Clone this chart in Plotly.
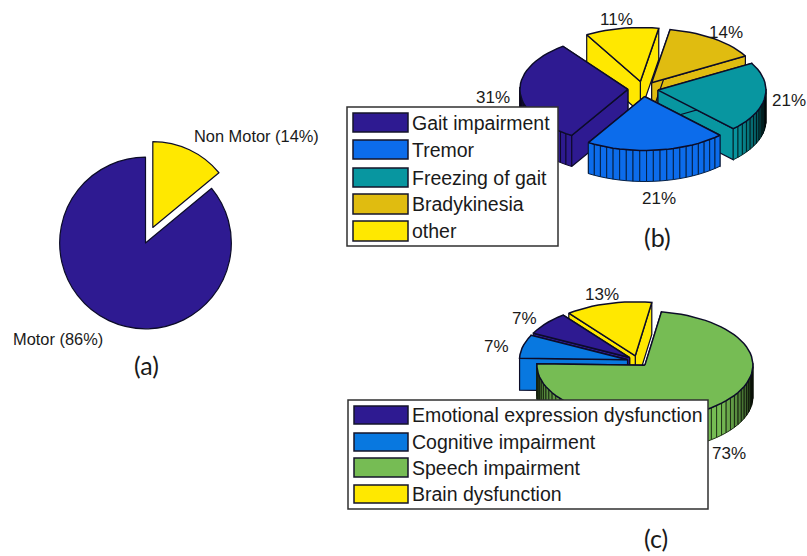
import math
import plotly.graph_objects as go

# ---------- data ----------
labels_a = ["Non Motor (14%)", "Motor (86%)"]
values_a = [14, 86]

labels_b = ["Gait impairment", "Tremor", "Freezing of gait", "Bradykinesia", "other"]
values_b = [31, 21, 21, 14, 11]

labels_c = ["Emotional expression dysfunction", "Cognitive impairment", "Speech impairment", "Brain dysfunction"]
values_c = [7, 7, 73, 13]

# ---------- styling ----------
PURPLE = (46, 26, 145)
BLUE = (12, 108, 235)
TEAL = (8, 150, 160)
GOLD = (224, 188, 16)
YELLOW = (255, 232, 0)
GREEN = (118, 188, 84)
BLUE_C = (8, 120, 224)
colors_b = [PURPLE, BLUE, TEAL, GOLD, YELLOW]
colors_c = [PURPLE, BLUE_C, GREEN, YELLOW]
EDGE = "#0c0c28"
W, H = 807, 556
SANS = "Liberation Sans"
CAP = "Lato"


def rgb(c, s=1.0):
    return "rgb(%d,%d,%d)" % tuple(max(0, min(255, round(v * s))) for v in c)


def shade(t):
    t = t % 360
    if t < 180:
        return 0.3
    if t < 235:
        return 0.55 + 0.45 * (t - 180) / 55
    if t < 315:
        return 1.0
    return 1.0 - 0.85 * (t - 315) / 45


fig = go.Figure()


def add_poly(xs, ys, fill, line, width=1.0):
    fig.add_trace(go.Scatter(
        x=xs + xs[:1], y=ys + ys[:1], mode="lines", fill="toself",
        fillcolor=fill, line=dict(color=line, width=width),
        hoverinfo="skip", showlegend=False))


def pie3d(values, colors, cx, cy, a, b, h, start, explode):
    """Draw an exploded, extruded pie; slices go counter-clockwise from `start`."""
    slices, t0 = [], start
    for v, c in zip(values, colors):
        span = 3.6 * v
        slices.append((t0, t0 + span, v, c))
        t0 += span
    # back-to-front painting
    slices.sort(key=lambda s: -math.sin(math.radians((s[0] + s[1]) / 2)))
    for t1, t2, v, c in slices:
        mid = math.radians((t1 + t2) / 2)
        ox = cx + a * explode * math.cos(mid)
        oy = cy - b * explode * math.sin(mid)
        n = max(2, math.ceil(v))
        ts = [t1 + (t2 - t1) * i / n for i in range(n + 1)]
        px = [ox + a * math.cos(math.radians(t)) for t in ts]
        py = [oy - b * math.sin(math.radians(t)) for t in ts]
        # radial walls
        for i in (0, -1):
            add_poly([ox, px[i], px[i], ox], [oy, py[i], py[i] + h, oy + h], rgb(c), EDGE, 1.2)
        # rim facets on the front side
        for i in range(n):
            tm = (ts[i] + ts[i + 1]) / 2
            if math.sin(math.radians(tm)) < 0.02:
                s = shade(tm)
                add_poly([px[i], px[i + 1], px[i + 1], px[i]],
                         [py[i], py[i + 1], py[i + 1] + h, py[i] + h],
                         rgb(c, s), rgb(c, s * 0.3), 1.0)
        # top face
        add_poly([ox] + px, [oy] + py, rgb(c), EDGE, 1.5)


# (a) flat pie
fig.add_trace(go.Pie(
    labels=labels_a, values=values_a, sort=False, direction="clockwise", rotation=0,
    pull=[0.2, 0], textinfo="none", hoverinfo="label", showlegend=False,
    marker=dict(colors=[rgb(YELLOW), rgb(PURPLE)], line=dict(color=EDGE, width=1.2)),
    domain=dict(x=[42.5 / W, 248.5 / W], y=[1 - 346 / H, 1 - 140 / H])))

# (b), (c) extruded pies
pie3d(values_b, colors_b, 643, 89, 108, 54, 31, 127, 0.14)
pie3d(values_c, colors_c, 638, 361, 108, 54, 32, 128, 0.10)

# legends
shapes, annos = [], []


def text(x, y, s, size, font=SANS, xanchor="center", color="#1a1a1a"):
    annos.append(dict(x=x, y=y, text=s, showarrow=False, xanchor=xanchor, yanchor="middle",
                      font=dict(family=font, size=size, color=color), xref="x", yref="y"))


def legend(box, rows, labels, colors, size):
    shapes.append(dict(type="rect", x0=box[0], x1=box[1], y0=box[2], y1=box[3], xref="x", yref="y",
                       fillcolor="white", line=dict(color="#303030", width=1.5), layer="above"))
    for (y0, y1), lab, c in zip(rows, labels, colors):
        shapes.append(dict(type="rect", x0=box[0] + 6, x1=408, y0=y0, y1=y1, xref="x", yref="y",
                           fillcolor=rgb(c), line=dict(color="#15152a", width=1.5), layer="above"))
        text(410, (y0 + y1) / 2, lab, size, xanchor="left")


legend((347, 558, 107, 246), [(113, 132), (140, 159), (168, 187), (194, 214), (221, 241)],
       labels_b, colors_b, 19.5)
legend((348, 708, 400, 509), [(406, 424), (433, 451), (458, 477), (485, 503)],
       labels_c, colors_c, 19.5)

# percentage and panel labels
b_pos = [(493, 97), (659, 198), (789, 100), (726, 32), (616, 19)]
c_pos = [(524, 318), (496, 346), (729, 453), (602, 294)]
for v, (x, y) in zip(values_b, b_pos):
    text(x, y, f"{v}%", 17)
for v, (x, y) in zip(values_c, c_pos):
    text(x, y, f"{v}%", 17)
text(256, 136, labels_a[0], 16.4)
text(58, 339, labels_a[1], 16.4)
text(146, 365, "(a)", 25, CAP)
text(657, 237, "(b)", 25, CAP)
text(656, 538, "(c)", 25, CAP)

fig.update_layout(
    width=W, height=H, margin=dict(l=0, r=0, t=0, b=0, pad=0),
    paper_bgcolor="white", plot_bgcolor="white", showlegend=False,
    xaxis=dict(range=[0, W], visible=False, fixedrange=True),
    yaxis=dict(range=[H, 0], visible=False, fixedrange=True),
    shapes=shapes, annotations=annos)

fig.write_html("out.html", post_script="document.body.style.margin='0';", config={"displayModeBar": False})
